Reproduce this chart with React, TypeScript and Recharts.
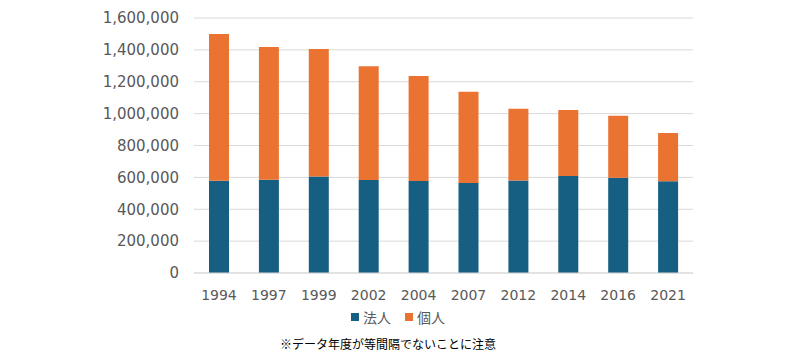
import React from "react";
import { BarChart, Bar, XAxis, YAxis, CartesianGrid } from "recharts";

const years = ["1994", "1997", "1999", "2002", "2004", "2007", "2012", "2014", "2016", "2021"];
const corporate = [579000, 585000, 606000, 583000, 577000, 565000, 581000, 608000, 598000, 575000];
const individual = [921000, 833000, 799000, 715000, 659000, 572000, 450000, 414000, 389000, 303000];
const yTicks = [0, 200000, 400000, 600000, 800000, 1000000, 1200000, 1400000, 1600000];
const seriesNames = { corporate: "法人", individual: "個人" };
const note = "※データ年度が等間隔でないことに注意";

const data = years.map((y, i) => ({ year: y, corporate: corporate[i], individual: individual[i] }));

const FONT = "'DejaVu Sans', 'Noto Sans CJK JP', sans-serif";
const TEXT = "#595959";
const BLUE = "#175F82";
const ORANGE = "#EB7332";

const LegendBlock = () => (
  <div
    style={{
      position: "absolute",
      left: 0,
      width: 796,
      top: 308,
      display: "flex",
      justifyContent: "center",
      alignItems: "center",
      fontFamily: "'Noto Sans CJK JP', sans-serif",
      fontSize: 14,
      color: TEXT,
      lineHeight: "18px",
    }}
  >
    {[
      { c: BLUE, n: seriesNames.corporate },
      { c: ORANGE, n: seriesNames.individual },
    ].map((it, i) => (
      <span key={i} style={{ display: "inline-flex", alignItems: "center", marginRight: i === 0 ? 14 : 0 }}>
        <span style={{ display: "inline-block", width: 8, height: 8, background: it.c, marginRight: 4 }} />
        <span>{it.n}</span>
      </span>
    ))}
  </div>
);

export default function App() {
  return (
    <div style={{ position: "absolute", left: 0, top: 0, width: 800, height: 360, background: "#fff" }}>
      <BarChart
        width={800}
        height={360}
        data={data}
        margin={{ top: 18, right: 107, left: 0, bottom: 0 }}
        barSize={20}
      >
        <CartesianGrid vertical={false} stroke="#d9d9d9" />
        <XAxis
          dataKey="year"
          axisLine={{ stroke: "#d9d9d9" }}
          tickLine={false}
          tickSize={0}
          tickMargin={17}
          height={87}
          interval={0}
          tick={{ fill: TEXT, fontSize: 14, fontFamily: FONT }}
        />
        <YAxis
          width={194}
          domain={[0, 1600000]}
          ticks={yTicks}
          interval={0}
          axisLine={false}
          tickLine={false}
          tickSize={0}
          tickMargin={15}
          tickFormatter={(v: number) => v.toLocaleString("en-US")}
          tick={{ fill: TEXT, fontSize: 15, fontFamily: FONT }}
        />
        <Bar dataKey="corporate" name={seriesNames.corporate} stackId="a" fill={BLUE} isAnimationActive={false} />
        <Bar dataKey="individual" name={seriesNames.individual} stackId="a" fill={ORANGE} isAnimationActive={false} />
      </BarChart>
      <LegendBlock />
      <div
        style={{
          position: "absolute",
          left: 0,
          width: 776,
          top: 335,
          textAlign: "center",
          fontFamily: "'Noto Sans CJK JP', sans-serif",
          fontSize: 12,
          color: "#000",
          lineHeight: "18px",
        }}
      >
        {note}
      </div>
    </div>
  );
}
